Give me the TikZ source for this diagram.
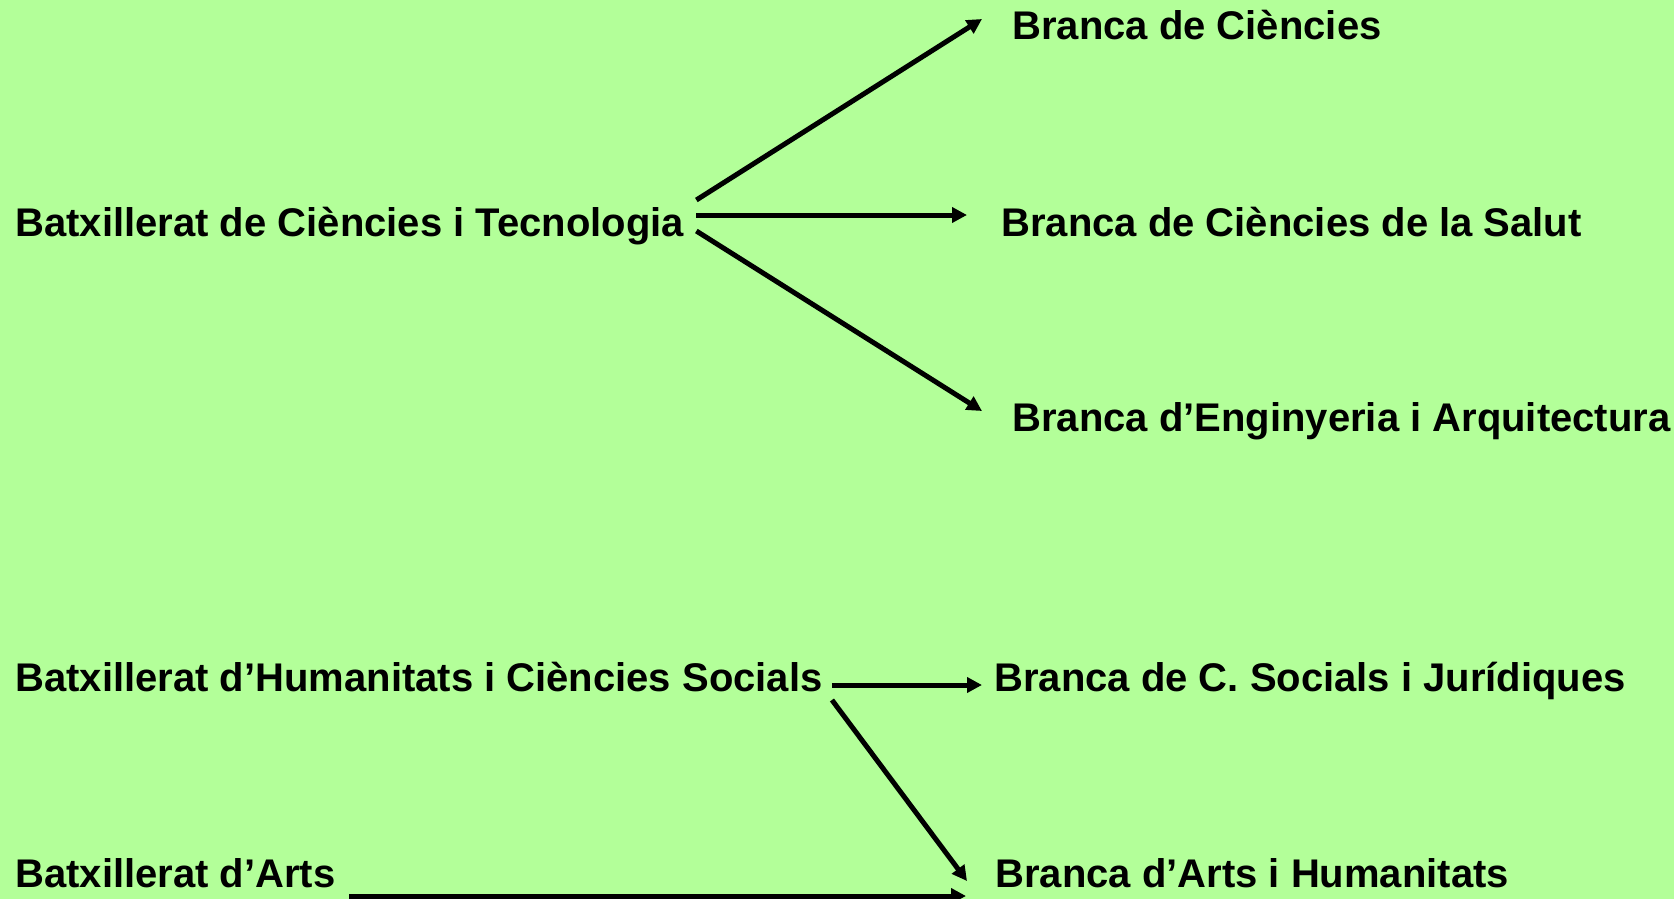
\documentclass[tikz,border=0pt]{standalone}
\usepackage{fontspec}
\setmainfont{Liberation Sans}
\usepackage{tikz}
\usetikzlibrary{arrows.meta}
\definecolor{PaleGreen}{RGB}{179,255,153}

\begin{document}
\begin{tikzpicture}[x=1pt, y=-1pt, line width=5pt,
		every node/.style={inner sep=0pt, anchor=base west, font=\fontsize{40}{48}\selectfont\bfseries},
		arr/.style={-{Triangle[length=15pt, width=15pt]}}]
		\fill [PaleGreen] (0, 0) rectangle (1674, 899);
		\useasboundingbox (0, 0) rectangle (1674, 899);
		
		\node (ct) at (13, 236) {Batxillerat de Ciències i Tecnologia};
		\node (hcs) at (13, 691) {Batxillerat d’Humanitats i Ciències Socials};
		\node (art) at (13, 887) {Batxillerat d’Arts};
		
		\node (bc) at (1010, 40) {Branca de Ciències};
		\node (bcs) at (999, 236) {Branca de Ciències de la Salut};
		\node (bea) at (1010, 431) {Branca d’Enginyeria i Arquitectura};
		\node (bsj) at (992, 691) {Branca de C. Socials i Jurídiques};
		\node (bah) at (993, 887) {Branca d’Arts i Humanitats};
		
		\draw [arr] ([xshift=10pt, yshift=36pt]ct.base east) -- ([xshift=-28pt, yshift=21pt]bc.base west);
		\draw [arr] ([xshift=10pt, yshift=21pt]ct.base east) -- ([xshift=-32pt, yshift=21pt]bcs.base west);
		\draw [arr] ([xshift=10pt, yshift=5pt]ct.base east) -- ([xshift=-28pt, yshift=20pt]bea.base west);
		
		\draw [arr] ([xshift=7pt, yshift=6pt]hcs.base east) -- ([xshift=-10pt, yshift=6pt]bsj.base west);
		\draw [arr] ([xshift=7pt, yshift=-9pt]hcs.base east) -- ([xshift=-26pt, yshift=6pt]bah.base west);
		
		\draw [arr] ([xshift=11pt, yshift=-9pt]art.base east) -- ([xshift=-27pt, yshift=-9pt]bah.base west);
	\end{tikzpicture}
\end{document}
